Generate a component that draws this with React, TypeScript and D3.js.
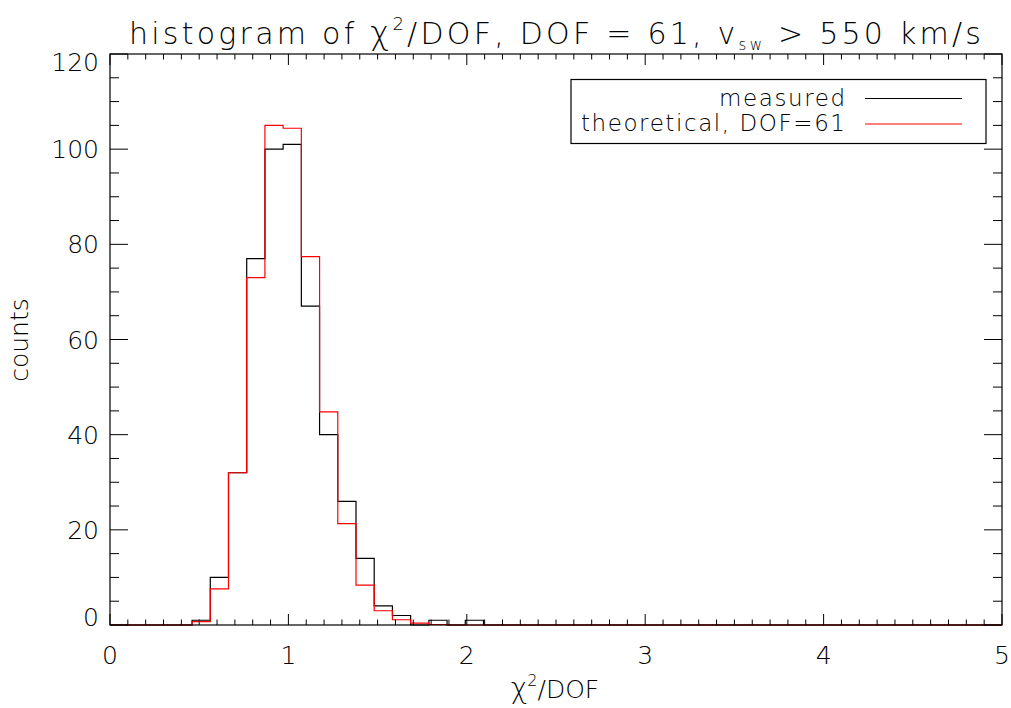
import React from "react";
import * as d3 from "d3";

const binStart = 0.46;
const binWidth = 0.1021;
const measuredCounts = [1, 10, 32, 77, 100, 101, 67, 40, 26, 14, 4, 2, 0, 1, 0, 1];
const theoreticalCounts = [0.7, 7.6, 32, 73, 105, 104.4, 77.4, 44.8, 21.3, 8.4, 3.0, 1.1, 0.4, 0.1, 0, 0];
const xTicks = [0, 1, 2, 3, 4, 5];
const yTicks = [0, 20, 40, 60, 80, 100, 120];
const legendLabels = ["measured", "theoretical, DOF=61"];

const W = 1011;
const H = 708;
const L = 110, R = 1002, T = 54, B = 625;
const FONT = "'DejaVu Sans', sans-serif";

function stepPath(counts: number[], x: d3.ScaleLinear<number, number>, y: d3.ScaleLinear<number, number>) {
  const line = d3.line<[number, number]>().x(d => d[0]).y(d => d[1]);
  const out: [number, number][] = [[x(0), y(0)], [x(binStart), y(0)]];
  counts.forEach((c, i) => {
    const a = binStart + i * binWidth;
    const b = a + binWidth;
    out.push([x(a), y(c)]);
    out.push([x(b), y(c)]);
  });
  const last = binStart + counts.length * binWidth;
  out.push([x(last), y(0)]);
  out.push([x(5), y(0)]);
  return line(out) || "";
}

export default function App() {
  const x = d3.scaleLinear().domain([0, 5]).range([L, R]);
  const y = d3.scaleLinear().domain([0, 120]).range([B, T]);

  const xMinor = d3.range(0, 51).map(i => i / 10);
  const yMinor = d3.range(0, 25).map(i => i * 5);

  const xMajLen = 11, xMinLen = 5.5, yMajLen = 18, yMinLen = 9;

  return (
    <svg width={W} height={H} style={{ position: "absolute", left: 0, top: 0, background: "#fff" }} fontFamily={FONT}>
      <rect x={0} y={0} width={W} height={H} fill="#fff" />
      {/* histograms */}
      <path d={stepPath(measuredCounts, x, y)} fill="none" stroke="#000" strokeWidth={1.2} />
      <path d={stepPath(theoreticalCounts, x, y)} fill="none" stroke="#ff0000" strokeWidth={1.2} />
      {/* axes box */}
      <rect x={L} y={T} width={R - L} height={B - T} fill="none" stroke="#000" strokeWidth={1.2} />
      {/* x ticks */}
      {xMinor.map((v, i) => {
        const major = i % 10 === 0;
        const len = major ? xMajLen : xMinLen;
        return (
          <g key={"xt" + i} stroke="#000" strokeWidth={1}>
            <line x1={x(v)} x2={x(v)} y1={B} y2={B - len} />
            <line x1={x(v)} x2={x(v)} y1={T} y2={T + len} />
          </g>
        );
      })}
      {yMinor.map((v, i) => {
        const major = i % 4 === 0;
        const len = major ? yMajLen : yMinLen;
        return (
          <g key={"yt" + i} stroke="#000" strokeWidth={1}>
            <line x1={L} x2={L + len} y1={y(v)} y2={y(v)} />
            <line x1={R} x2={R - len} y1={y(v)} y2={y(v)} />
          </g>
        );
      })}
      {/* tick labels */}
      {xTicks.map(v => (
        <text key={"xl" + v} x={x(v)} y={664} textAnchor="middle" fontSize={25} fontWeight={200} fill="#000">{v}</text>
      ))}
      {yTicks.map(v => {
        const cy = Math.max(T + 8, Math.min(B - 8, y(v)));
        return (
          <text key={"yl" + v} x={99} y={cy} dy="0.36em" textAnchor="end" fontSize={25} fontWeight={200} fill="#000">{v}</text>
        );
      })}
      {/* axis titles */}
      <text x={555} y={698} textAnchor="middle" fontSize={25} fontWeight={200} fill="#000">
        <tspan fontSize={28}>χ</tspan>
        <tspan fontSize={16} dy={-12}>2</tspan>
        <tspan dy={12}>/DOF</tspan>
      </text>
      <text transform="translate(28,340) rotate(-90)" textAnchor="middle" fontSize={25} fontWeight={200} fill="#000">counts</text>
      {/* title */}
      <text x={555} y={44} textAnchor="middle" fontSize={30} fontWeight={200} fill="#000" textLength={852} lengthAdjust="spacing">
        <tspan>histogram of </tspan>
        <tspan fontSize={32}>χ</tspan>
        <tspan fontSize={18} dy={-14}>2</tspan>
        <tspan dy={14}>/DOF, DOF = 61, v</tspan>
        <tspan fontSize={15} dy={6}>sw</tspan>
        <tspan dy={-6}> &gt; 550 km/s</tspan>
      </text>
      {/* legend */}
      <rect x={571} y={79.5} width={415} height={64} fill="#fff" stroke="#000" strokeWidth={1.2} />
      <text x={845} y={106} textAnchor="end" fontSize={23} fontWeight={200} fill="#000" textLength={126} lengthAdjust="spacing">{legendLabels[0]}</text>
      <text x={845} y={131} textAnchor="end" fontSize={23} fontWeight={200} fill="#000" textLength={264} lengthAdjust="spacing">{legendLabels[1]}</text>
      <line x1={865} x2={962} y1={98.5} y2={98.5} stroke="#000" strokeWidth={1.2} />
      <line x1={865} x2={962} y1={124} y2={124} stroke="#ff0000" strokeWidth={1.2} />
    </svg>
  );
}
